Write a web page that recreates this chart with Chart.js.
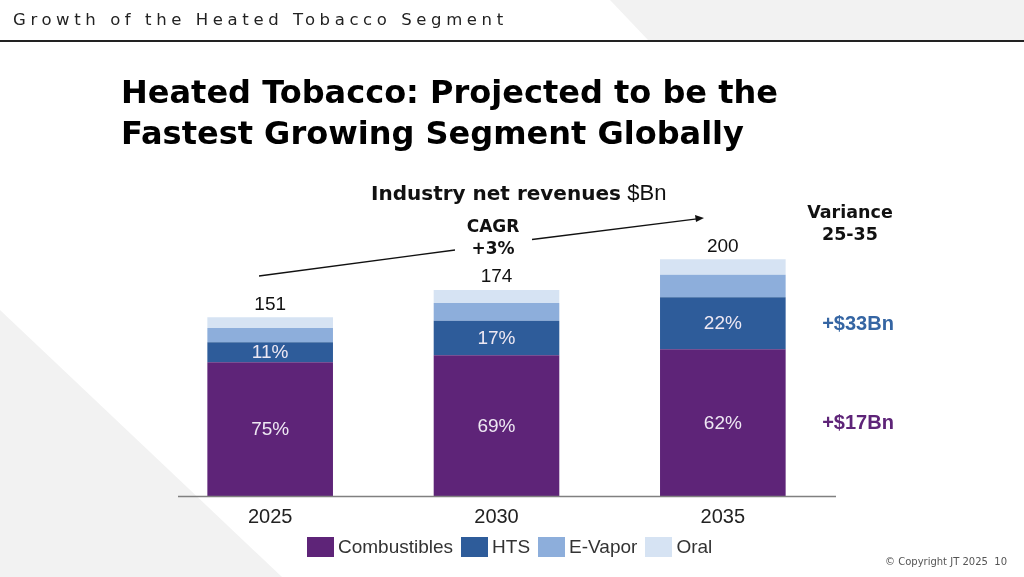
<!DOCTYPE html>
<html>
<head>
<meta charset="utf-8">
<script src="https://cdn.jsdelivr.net/npm/chart.js@4"></script>
<style>
  body { margin: 0; width: 1024px; height: 577px; overflow: hidden; background: #fff; position: relative; font-family: "Liberation Sans", Arial, sans-serif; }
  #bg { position: absolute; left: 0; top: 0; }
  #chart { position: absolute; left: 0; top: 0; }
  .txt { position: absolute; white-space: nowrap; color: #111; }
  #header { left: 13px; top: 10px; font-family: "DejaVu Sans", sans-serif; font-size: 16.5px; letter-spacing: 4.6px; color: #222; }
  #title { left: 121px; top: 72px; font-family: "DejaVu Sans", sans-serif; font-weight: bold; font-size: 32px; line-height: 41px; color: #000; }
  #sub { left: 371px; top: 180px; font-family: "DejaVu Sans", sans-serif; font-size: 20px; }
  #sub b { font-weight: bold; }
  #sub span { font-family: "Liberation Sans", sans-serif; font-size: 22px; }
  #cagr { left: 453px; top: 215px; width: 80px; text-align: center; font-family: "DejaVu Sans", sans-serif; font-weight: bold; font-size: 17px; line-height: 22px; }
  #variance { left: 800px; top: 201px; width: 100px; text-align: center; font-family: "DejaVu Sans", sans-serif; font-weight: bold; font-size: 17.5px; line-height: 22px; }
  #legend { position: absolute; left: 307px; top: 536px; display: flex; align-items: center; font-size: 19px; color: #333; }
  #legend .item { display: flex; align-items: center; margin-right: 8px; }
  #legend .box { width: 27px; height: 20px; margin-right: 4px; }
  #copy { left: 885px; top: 556px; font-size: 10px; color: #555; font-family: "DejaVu Sans", sans-serif; }
</style>
</head>
<body>
<svg id="bg" width="1024" height="577">
  <polygon points="610,0 1024,0 1024,40 648,40" fill="#f2f2f2"/>
  <polygon points="0,310 282,577 0,577" fill="#f2f2f2"/>
  <line x1="0" y1="41" x2="1024" y2="41" stroke="#222" stroke-width="2"/>
  <line x1="259" y1="276" x2="455" y2="250" stroke="#111" stroke-width="1.3"/>
  <line x1="532" y1="239.5" x2="697" y2="218.8" stroke="#111" stroke-width="1.3"/>
  <polygon points="704,218 695,215 696,222" fill="#111"/>
</svg>
<canvas id="chart" width="1024" height="577"></canvas>
<div id="header" class="txt">Growth of the Heated Tobacco Segment</div>
<div id="title" class="txt">Heated Tobacco: Projected to be the<br>Fastest Growing Segment Globally</div>
<div id="sub" class="txt"><b>Industry net revenues</b> <span>$Bn</span></div>
<div id="cagr" class="txt">CAGR<br>+3%</div>
<div id="variance" class="txt">Variance<br>25-35</div>
<div id="legend"></div>
<div id="copy" class="txt">© Copyright JT 2025&nbsp;&nbsp;10</div>
<script>
// industry net revenues, $Bn
const years = ['2025', '2030', '2035'];
const combustibles = [113, 119, 124];
const hts = [17, 29, 44];
const eVapor = [12, 15, 19];
const oral = [9, 11, 13];
const totals = [151, 174, 200];
const combShare = ['75%', '69%', '62%'];
const htsShare = ['11%', '17%', '22%'];
const seriesNames = ['Combustibles', 'HTS', 'E-Vapor', 'Oral'];
const seriesColors = ['#5e2478', '#2e5c9a', '#8daedb', '#d6e3f3'];
const varianceLabels = ['+$17Bn', '+$33Bn'];
const varianceColors = ['#5e2478', '#3565a3'];

const labelPlugin = {
    id: 'labels',
    afterDatasetsDraw(chart) {
        const ctx = chart.ctx;
        const area = chart.chartArea;
        ctx.save();

        // base line
        ctx.strokeStyle = '#808080';
        ctx.lineWidth = 1.5;
        ctx.beginPath();
        ctx.moveTo(area.left + 21, area.bottom + 0.5);
        ctx.lineTo(area.right, area.bottom + 0.5);
        ctx.stroke();

        ctx.textAlign = 'center';
        ctx.textBaseline = 'middle';
        ctx.font = '19px "Liberation Sans", Arial, sans-serif';

        // shares inside the segments
        ctx.fillStyle = '#eee8f3';
        [combShare, htsShare].forEach((shares, di) => {
            chart.getDatasetMeta(di).data.forEach((bar, i) => {
                ctx.fillText(shares[i], bar.x, (bar.y + bar.base) / 2 + 1);
            });
        });

        // totals on top
        ctx.fillStyle = '#111';
        chart.getDatasetMeta(3).data.forEach((bar, i) => {
            ctx.fillText(totals[i], bar.x, bar.y - 13);
        });

        // year labels
        ctx.font = '20px "Liberation Sans", Arial, sans-serif';
        ctx.fillStyle = '#222';
        const xs = chart.scales.x;
        years.forEach((y, i) => {
            ctx.fillText(y, xs.getPixelForValue(i), area.bottom + 21);
        });

        // variance 25-35 next to last bar
        ctx.font = 'bold 20px "Liberation Sans", Arial, sans-serif';
        [0, 1].forEach(di => {
            const meta = chart.getDatasetMeta(di);
            const bar = meta.data[meta.data.length - 1];
            ctx.fillStyle = varianceColors[di];
            ctx.fillText(varianceLabels[di], area.right + 22, (bar.y + bar.base) / 2 + 1);
        });
        ctx.restore();
    }
};

const datasets = [combustibles, hts, eVapor, oral].map((d, i) => ({
    label: seriesNames[i],
    data: d,
    backgroundColor: seriesColors[i],
    borderWidth: 0,
    barPercentage: 0.555,
    categoryPercentage: 1
}));

new Chart(document.getElementById('chart'), {
    type: 'bar',
    data: { labels: years, datasets: datasets },
    options: {
        responsive: false,
        animation: false,
        layout: { padding: { left: 157, right: 188, top: 212, bottom: 81 } },
        scales: {
            x: { stacked: true, display: false },
            y: { stacked: true, display: false, min: 0, max: 240 }
        },
        plugins: { legend: { display: false }, tooltip: { enabled: false } }
    },
    plugins: [labelPlugin]
});

// legend
const legend = document.getElementById('legend');
seriesNames.forEach((name, i) => {
    const item = document.createElement('div');
    item.className = 'item';
    item.innerHTML = '<div class="box" style="background:' + seriesColors[i] + '"></div>' + name;
    legend.appendChild(item);
});
</script>
</body>
</html>
